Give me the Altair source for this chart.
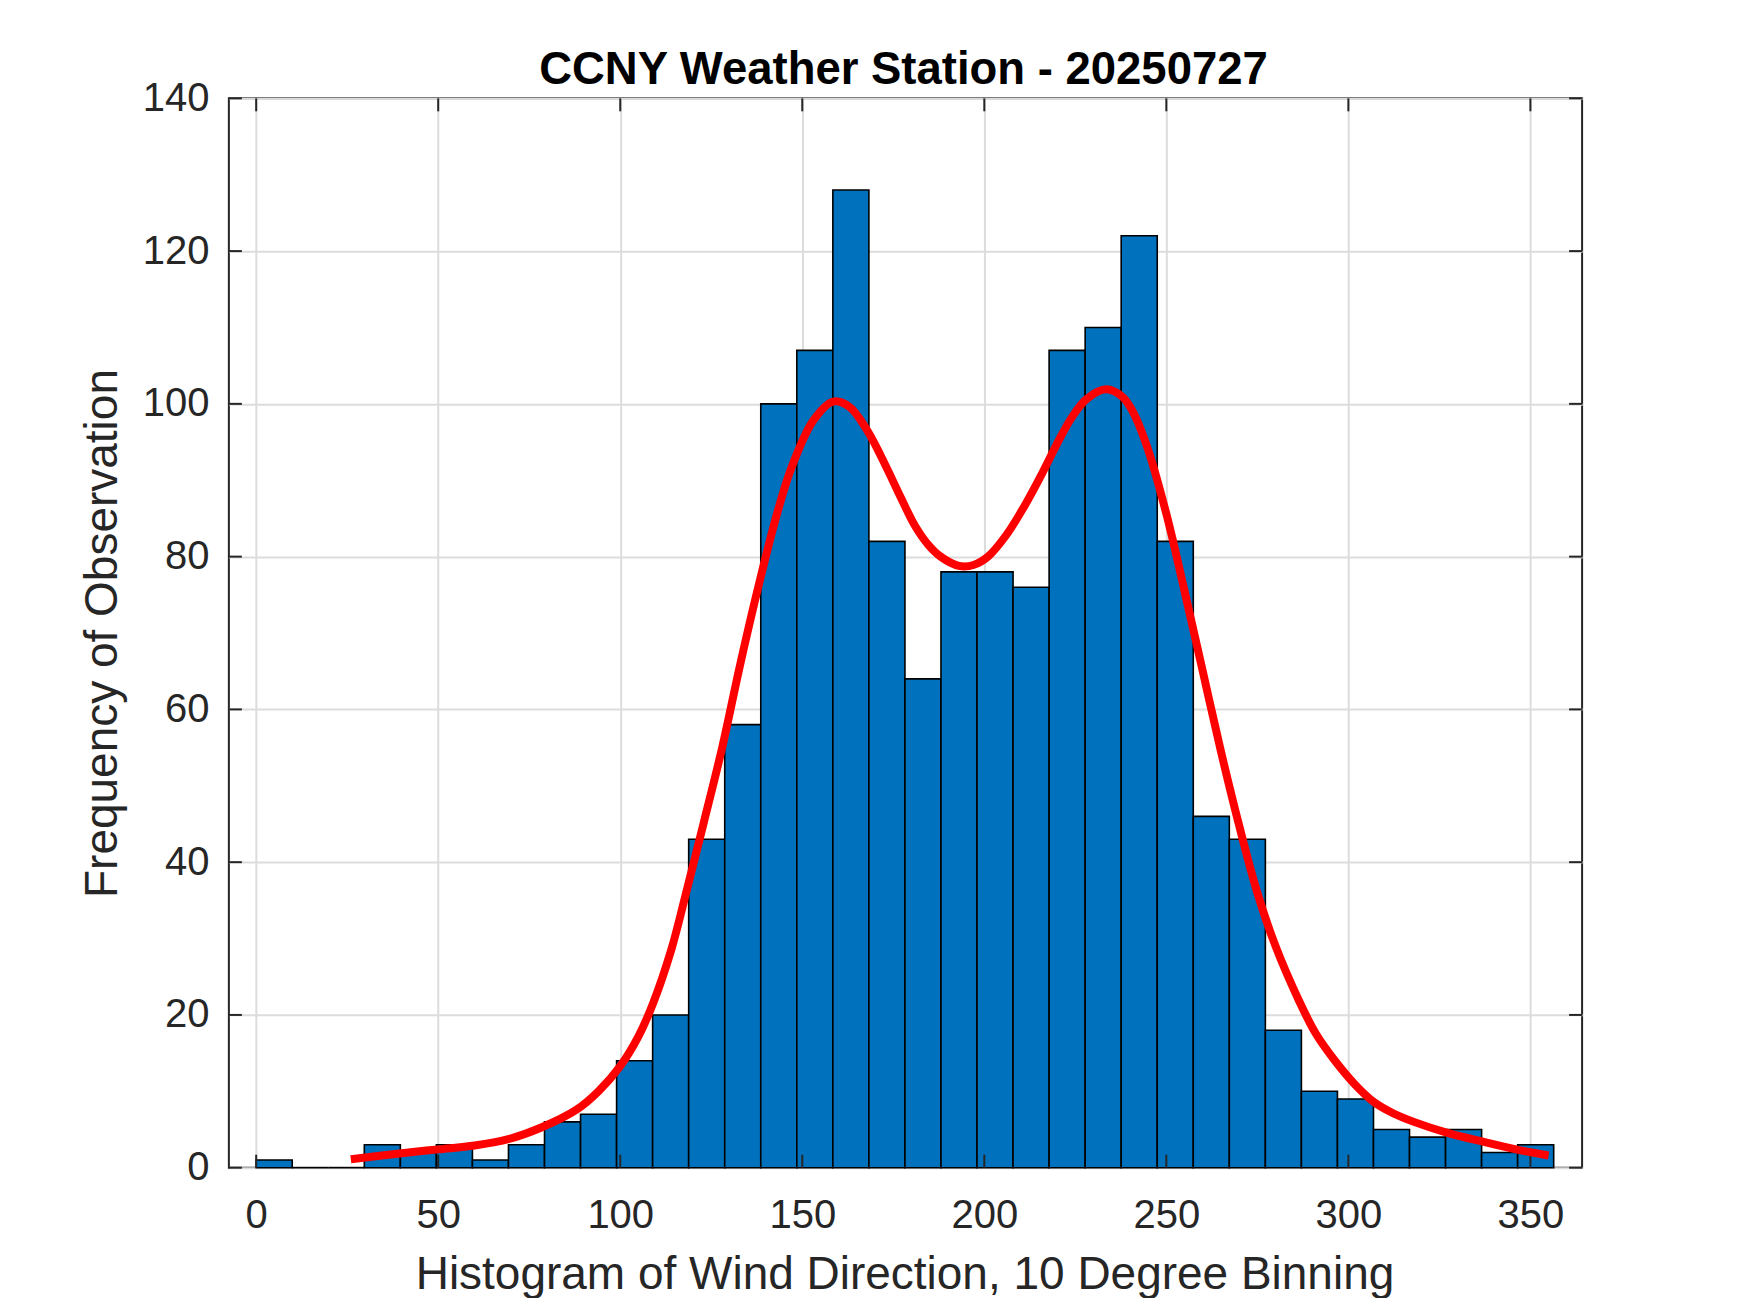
import altair as alt
import pandas as pd

# ---- data ----
bin_start = 0.0
bin_width = 9.9
counts = [1, 0, 0, 3, 2, 3, 1, 3, 6, 7, 14, 20, 43, 58, 100, 107, 128, 82,
          64, 78, 78, 76, 107, 110, 122, 82, 46, 43, 18, 10, 9, 5, 4, 5, 2, 3]

curve_x = [26, 40, 50, 60, 69, 78, 88, 94, 100, 105, 109, 114, 118, 123, 128,
           133, 138, 143, 147, 153, 158.5, 163, 168, 173, 177, 181, 184.5, 188,
           193, 197, 201, 206, 211, 216, 220, 224, 228, 233.5, 238, 241, 245,
           250, 255, 260, 265, 270, 275, 280, 286.5, 291, 296, 302, 307, 312,
           318, 327, 337, 346, 355]
curve_y = [1.1, 1.9, 2.4, 2.9, 3.7, 5.2, 7.6, 10.0, 13.3, 17.2, 21.5, 28.5, 35.8,
           45.3, 55.0, 66.0, 76.2, 85.5, 91.6, 97.8, 100.3, 99.6, 96.4, 91.8,
           87.8, 84.0, 81.6, 80.0, 78.8, 78.9, 80.0, 82.8, 86.6, 91.0, 94.8, 98.2,
           100.6, 101.9, 100.9, 98.8, 94.0, 85.6, 75.5, 65.0, 54.5, 44.8, 36.0,
           29.0, 21.8, 17.6, 14.2, 10.8, 8.6, 7.2, 6.0, 4.6, 3.4, 2.4, 1.6]

x_ticks = [0, 50, 100, 150, 200, 250, 300, 350]
y_ticks = [0, 20, 40, 60, 80, 100, 120, 140]

title = "CCNY Weather Station - 20250727"
x_title = "Histogram of Wind Direction, 10 Degree Binning"
y_title = "Frequency of Observation"

# ---- tables ----
bars = pd.DataFrame({
    "start": [bin_start + i * bin_width for i in range(len(counts))],
    "end": [bin_start + (i + 1) * bin_width for i in range(len(counts))],
    "count": counts,
})
curve = pd.DataFrame({"start": curve_x, "count": curve_y})
xt = pd.DataFrame({"start": x_ticks})
yt = pd.DataFrame({"count": y_ticks})
tt = pd.DataFrame({"label": [title]})

W, H = 1354, 1070
FONT = "Liberation Sans"
AX = "#262626"

xscale = alt.Scale(domain=[-7.5, 364.2], nice=False, zero=False)
yscale = alt.Scale(domain=[0, 140], nice=False, zero=False)

x_axis = alt.Axis(values=x_ticks, title=x_title, grid=True, ticks=False, tickSize=0,
                  domain=False, labelFont=FONT, labelFontSize=40, labelColor=AX,
                  labelPadding=28, labelBaseline="top", labelFlush=False,
                  titleFont=FONT, titleFontSize=46, titleFontWeight="normal",
                  titleColor=AX, titleX=W / 2 - 1, titleY=121,
                  titleBaseline="alphabetic", titleAnchor="middle",
                  gridColor="#DCDCDC", gridWidth=2)
y_axis = alt.Axis(values=y_ticks, title=y_title, grid=True, ticks=False, tickSize=0,
                  domain=False, labelFont=FONT, labelFontSize=40, labelColor=AX,
                  labelPadding=20, labelBaseline="middle", labelFlush=False,
                  titleFont=FONT, titleFontSize=46, titleFontWeight="normal",
                  titleColor=AX, titleX=-112, titleY=H / 2,
                  titleBaseline="alphabetic", titleAngle=-90,
                  gridColor="#DCDCDC", gridWidth=2)

X = alt.X("start:Q", scale=xscale, axis=x_axis)
Y = alt.Y("count:Q", scale=yscale, axis=y_axis)

bar_layer = alt.Chart(bars).mark_rect(
    fill="#0072BD", stroke="#000000", strokeWidth=1.6
).encode(x=X, x2="end:Q", y=Y, y2=alt.datum(0))

tick_bottom = alt.Chart(xt).mark_rule(color=AX, strokeWidth=2).encode(
    x=X, y=alt.value(H), y2=alt.value(H - 13))
tick_top = alt.Chart(xt).mark_rule(color=AX, strokeWidth=2).encode(
    x=X, y=alt.value(0), y2=alt.value(13))
tick_left = alt.Chart(yt).mark_rule(color=AX, strokeWidth=2).encode(
    y=Y, x=alt.value(0), x2=alt.value(13))
tick_right = alt.Chart(yt).mark_rule(color=AX, strokeWidth=2).encode(
    y=Y, x=alt.value(W), x2=alt.value(W - 13))

line_layer = alt.Chart(curve).mark_line(
    color="#FF0000", strokeWidth=8, interpolate="catmull-rom", strokeCap="butt"
).encode(x=X, y=Y)

title_layer = alt.Chart(tt).mark_text(
    font=FONT, fontSize=45.5, fontWeight="bold", color="#000000",
    align="center", baseline="alphabetic"
).encode(text="label:N", x=alt.value(W / 2 - 2), y=alt.value(-14))

chart = alt.layer(
    bar_layer, tick_bottom, tick_top, tick_left, tick_right, line_layer, title_layer
).properties(
    width=W, height=H,
    background="white",
    autosize=alt.AutoSizeParams(type="none"),
    padding={"left": 221, "top": 90, "right": 160, "bottom": 130},
).configure_view(
    stroke=AX, strokeWidth=2
)

chart.save("out.html", embed_options={"renderer": "svg", "actions": False})
